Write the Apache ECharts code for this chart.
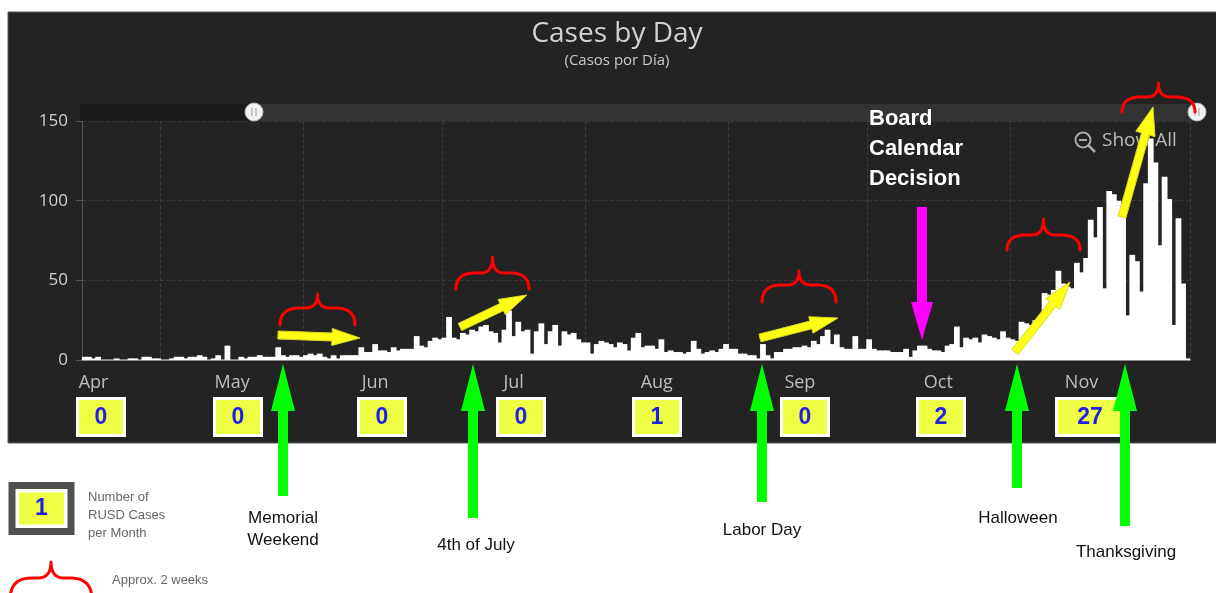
<!DOCTYPE html>
<html><head><meta charset="utf-8">
<script src="https://cdn.jsdelivr.net/npm/echarts@6/dist/echarts.min.js"></script>
<style>html,body{margin:0;padding:0;background:#fff}#c{width:1216px;height:593px}</style>
</head><body><div id="c"></div>
<script>
// ---------- data ----------
const monthNames = ['Apr','May','Jun','Jul','Aug','Sep','Oct','Nov','Dec'];
const monthFirstDay = [14,1,1,1,1,1,1,1,1];
const casesApr = [2,2,1,2,0,0,0,1,0,0,1,1,0,2,2,1,1];
const casesMay = [0,0,1,2,2,1,2,2,3,2,0,1,3,0,9,0,0,2,1,2,2,3,2,2,2,8,3,2,3,3,2];
const casesJun = [3,4,3,4,2,1,3,1,3,3,3,3,8,5,5,10,6,6,5,8,6,7,7,7,15,9,8,12,14,13];
const casesJul = [14,27,14,13,17,16,19,18,21,22,18,17,11,19,31,15,24,18,19,4,18,23,10,18,22,9,18,16,17,13,11];
const casesAug = [11,4,10,12,11,10,8,11,10,6,14,17,8,9,9,7,13,5,6,5,5,4,5,12,7,4,5,6,5,7,10];
const casesSep = [7,7,4,4,3,3,1,10,3,1,5,5,7,7,8,8,9,8,12,10,15,19,10,16,8,7,7,15,7,7];
const casesOct = [13,7,6,6,6,5,5,5,7,2,6,9,9,7,6,6,5,9,10,21,8,14,13,14,11,16,15,14,13,18,14];
const casesNov = [13,12,24,23,22,25,25,42,41,44,56,48,46,45,61,55,64,88,77,96,45,106,104,100,92,28,66,62,43,111];
const casesDec = [139,124,72,115,101,22,89,48,1];
const rusdMonthLabels = ['Apr','May','Jun','Jul','Aug','Sep','Oct','Nov'];
const rusdCasesPerMonth = [0,0,0,0,1,0,2,27];
const yTickValues = [0,50,100,150];

// ---------- build category axis ----------
const monthly = [casesApr,casesMay,casesJun,casesJul,casesAug,casesSep,casesOct,casesNov,casesDec];
const days = [], dayOfMonth = [], cases = [];
monthly.forEach((arr,m)=>arr.forEach((v,k)=>{
  const d = monthFirstDay[m]+k;
  days.push(monthNames[m]+' '+d); dayOfMonth.push(d); cases.push(v);
}));

// ---------- annotation helpers ----------
function arrowPts(x1,y1,x2,y2,sw,hw,hl){
  const dx=x2-x1, dy=y2-y1, L=Math.hypot(dx,dy), ux=dx/L, uy=dy/L, px=-uy, py=ux;
  const bx=x2-ux*hl, by=y2-uy*hl;
  return [[x1+px*sw/2,y1+py*sw/2],[bx+px*sw/2,by+py*sw/2],[bx+px*hw/2,by+py*hw/2],[x2,y2],
          [bx-px*hw/2,by-py*hw/2],[bx-px*sw/2,by-py*sw/2],[x1-px*sw/2,y1-py*sw/2]];
}
function quad(p0,c,p1,n,out){
  for(let i=0;i<=n;i++){const t=i/n,a=(1-t)*(1-t),b=2*t*(1-t),d=t*t;
    out.push([a*p0[0]+b*c[0]+d*p1[0], a*p0[1]+b*c[1]+d*p1[1]]);}
}
function bracePts(x0,x1,yt,ym,yb){
  const w=x1-x0, xc=(x0+x1)/2, re=w*0.26, rm=w*0.16, pts=[];
  quad([x0,yb],[x0,ym],[x0+re,ym],12,pts);
  pts.push([xc-rm,ym]);
  quad([xc-rm,ym],[xc,ym],[xc,yt],10,pts);
  quad([xc,yt],[xc,ym],[xc+rm,ym],10,pts);
  pts.push([x1-re,ym]);
  quad([x1-re,ym],[x1,ym],[x1,yb],12,pts);
  return pts;
}
const els = [];
// dark panel
els.push({type:'rect', z:-10, shape:{x:8,y:12,width:1220,height:431}, style:{fill:'#232323', stroke:'#5a5a5a', lineWidth:1}});
// titles
els.push({type:'text', z:5, x:617, y:34, style:{text:'Cases by Day', fill:'#d2d2d2', font:'28px "Open Sans"', align:'center', verticalAlign:'middle'}});
els.push({type:'text', z:5, x:617, y:61, style:{text:'(Casos por Día)', fill:'#c8c8c8', font:'15px "Open Sans"', align:'center', verticalAlign:'middle'}});
// slider look (zoom bar)
els.push({type:'rect', z:5, shape:{x:80,y:104,width:1117,height:17}, style:{fill:'#1b1b1b'}});
els.push({type:'rect', z:5, shape:{x:254,y:104,width:943,height:17}, style:{fill:'#333333'}});
[254,1197].forEach(cx=>{
  els.push({type:'circle', z:6, shape:{cx:cx,cy:112,r:9}, style:{fill:'#f2f2f2', stroke:'#bbbbbb', lineWidth:1}});
  els.push({type:'line', z:7, shape:{x1:cx-2,y1:108,x2:cx-2,y2:116}, style:{stroke:'#999', lineWidth:1}});
  els.push({type:'line', z:7, shape:{x1:cx+2,y1:108,x2:cx+2,y2:116}, style:{stroke:'#999', lineWidth:1}});
});
// show all
els.push({type:'circle', z:6, shape:{cx:1083,cy:140,r:7.5}, style:{fill:'none', stroke:'#aaaaaa', lineWidth:2}});
els.push({type:'line', z:6, shape:{x1:1079,y1:140,x2:1087,y2:140}, style:{stroke:'#aaaaaa', lineWidth:2}});
els.push({type:'line', z:6, shape:{x1:1088.5,y1:145.5,x2:1095,y2:152}, style:{stroke:'#aaaaaa', lineWidth:2.5}});
els.push({type:'text', z:6, x:1102, y:141, style:{text:'Show All', fill:'#bbbbbb', font:'19px "Open Sans"', verticalAlign:'middle'}});
// month boxes
const boxCx = [101,238,382,521,657,805,941,1090];
rusdCasesPerMonth.forEach((v,i)=>{
  const w = String(v).length>1 ? 67 : 47;
  els.push({type:'rect', z:20, shape:{x:boxCx[i]-w/2,y:398.5,width:w,height:37}, style:{fill:'#eeff44', stroke:'#ffffff', lineWidth:3}});
  els.push({type:'text', z:21, x:boxCx[i], y:418, style:{text:String(v), fill:'#1f1fe6', font:'bold 23px "Liberation Sans"', align:'center', verticalAlign:'middle'}});
});
// braces
const braces = [[280,355,294,308,325],[456,529,257,273,289],[762,836,271,285,302],[1007,1080,219,235,250],[1122,1195,83,97,112],[10,92,562,578,600]];
braces.forEach(b=>els.push({type:'polyline', z:30, shape:{points:bracePts(...b)}, style:{stroke:'#ff0000', lineWidth:3, fill:null, lineJoin:'round', lineCap:'round'}}));
// yellow arrows
const yArrows = [[278,335,360,338,8,17,28],[460,327,527,295,8,17,28],[760,338,838,318,8,17,28],[1015,352,1070,282,8,18,28],[1122,217,1153,107,8,20,28]];
yArrows.forEach(a=>els.push({type:'polygon', z:31, shape:{points:arrowPts(...a)}, style:{fill:'#ffff14', stroke:'#d8d820', lineWidth:1}}));
// magenta arrow
els.push({type:'polygon', z:31, shape:{points:arrowPts(922,207,922,340,10,22,38)}, style:{fill:'#ff00ff'}});
els.push({type:'text', z:31, x:869, y:104, style:{text:'Board\nCalendar\nDecision', fill:'#ffffff', font:'bold 22px "Liberation Sans"', lineHeight:30, verticalAlign:'top'}});
// green arrows + labels
const gArrows = [[283,496],[473,518],[762,502],[1017,488],[1125,526]];
gArrows.forEach(g=>els.push({type:'polygon', z:32, shape:{points:arrowPts(g[0],g[1],g[0],364,10,24,47)}, style:{fill:'#00ff00'}}));
const hLabels = [['Memorial\nWeekend',283,517],['4th of July',476,544],['Labor Day',762,529],['Halloween',1018,517],['Thanksgiving',1126,551]];
hLabels.forEach(h=>els.push({type:'text', z:32, x:h[1], y:h[2]-10, style:{text:h[0], fill:'#111111', font:'17px "Liberation Sans"', lineHeight:22, align:'center', verticalAlign:'top'}}));
// legend
els.push({type:'rect', z:20, shape:{x:12,y:485.5,width:59,height:46}, style:{fill:'#ffffff', stroke:'#505050', lineWidth:7}});
els.push({type:'rect', z:21, shape:{x:19,y:492.5,width:45,height:32}, style:{fill:'#eeff44'}});
els.push({type:'text', z:22, x:41.5, y:509, style:{text:'1', fill:'#1f1fe6', font:'bold 23px "Liberation Sans"', align:'center', verticalAlign:'middle'}});
els.push({type:'text', z:22, x:88, y:488, style:{text:'Number of\nRUSD Cases\nper Month', fill:'#666666', font:'13px "Liberation Sans"', lineHeight:18, verticalAlign:'top'}});
els.push({type:'text', z:22, x:112, y:580, style:{text:'Approx. 2 weeks', fill:'#666666', font:'13px "Liberation Sans"', verticalAlign:'middle'}});

const chart = echarts.init(document.getElementById('c'), null, {renderer:'canvas'});
chart.setOption({
  backgroundColor:'#ffffff',
  animation:false,
  grid:{left:82, right:26, top:121, bottom:233, containLabel:false},
  xAxis:{
    type:'category', data:days, boundaryGap:true,
    axisLine:{lineStyle:{color:'#8a8a8a', width:2}},
    axisTick:{show:false},
    axisLabel:{interval:(i)=>dayOfMonth[i]===16, formatter:(v)=>v.split(' ')[0], color:'#bdbdbd', fontSize:18, fontFamily:'Open Sans', margin:14},
    splitLine:{show:true, interval:(i)=>dayOfMonth[i]===1, lineStyle:{color:'#3c3c3c', type:'dashed', width:1}}
  },
  yAxis:{
    type:'value', min:yTickValues[0], max:yTickValues[yTickValues.length-1], interval:50,
    axisLine:{show:true, lineStyle:{color:'#555555'}},
    axisTick:{show:true, length:6, lineStyle:{color:'#555555'}},
    axisLabel:{color:'#cfcfcf', fontSize:17, fontFamily:'Open Sans', margin:14},
    splitLine:{show:true, lineStyle:{color:'#383838', type:'dashed'}}
  },
  series:[{type:'bar', data:cases, barWidth:'125%', silent:true,
    itemStyle:{color:'#ffffff'}}],
  graphic:{elements:els}
});
</script></body></html>
